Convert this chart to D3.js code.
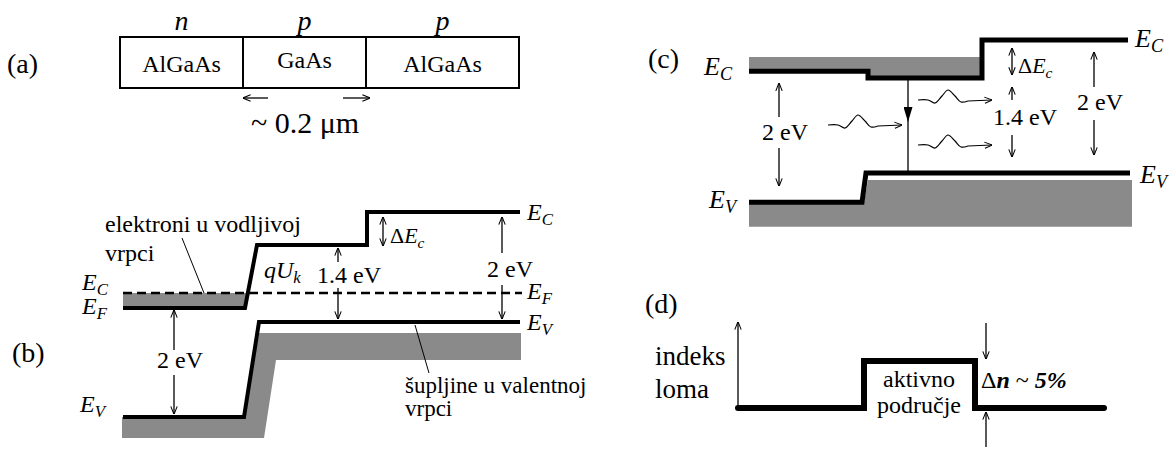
<!DOCTYPE html>
<html><head><meta charset="utf-8">
<script src="https://cdn.jsdelivr.net/npm/d3@7/dist/d3.min.js"></script>
<style>body{margin:0;background:#fff}svg text{font-family:"Liberation Serif","Times New Roman",serif;fill:#000}</style>
</head><body><svg id="c" width="1175" height="453"></svg>
<script>
// ---------- data ----------
// (a) layer stack
const layers = ["AlGaAs","GaAs","AlGaAs"];
const doping = ["n","p","p"];
const layerWidths = [123,123,153];           // relative thickness units
// (b) energy bands, [position, energy eV]
const bConduction = [[1,0.255],[123,0.255],[135,1.4],[245,1.4],[245,2.0],[398,2.0]];
const bFermi = 0.527;
const bValence = [[1,-1.727],[122,-1.727],[137,0],[398,0]];
const bElectrons = [[1,0.527],[125,0.527],[122,0.255],[1,0.255]];
const bHoles = [[0,-1.727],[122,-1.727],[137,-0.2],[399,-0.2],[399,-0.69],[154,-0.69],[142,-2.11],[0,-2.11]];
// (c) energy bands under forward bias
const cConduction = [[0,1.53],[119,1.53],[119,1.43],[233,1.43],[233,2.0],[379,2.0]];
const cValence = [[0,-0.44],[113,-0.44],[117,0],[381,0]];
const cElectrons = [[0,1.745],[231,1.745],[231,1.43],[119,1.43],[119,1.53],[0,1.53]];
const cHoles = [[0,-0.44],[115,-0.44],[119,-0.105],[383,-0.105],[383,-0.81],[0,-0.81]];
// (d) refractive index profile
const dIndex = [[0,0],[126,0],[126,1],[237,1],[237,0],[366,0]];

const svg = d3.select("#c");
const defs = svg.append("defs");
defs.append("marker").attr("id","ah").attr("viewBox","0 0 10 10").attr("refX",9.5).attr("refY",5)
  .attr("markerWidth",8).attr("markerHeight",8).attr("markerUnits","userSpaceOnUse").attr("orient","auto-start-reverse")
  .append("path").attr("d","M0,1 L10,5 L0,9").attr("fill","none").attr("stroke","#000").attr("stroke-width",1.3);
defs.append("marker").attr("id","fh").attr("viewBox","0 0 10 10").attr("refX",10).attr("refY",5)
  .attr("markerWidth",15).attr("markerHeight",9).attr("markerUnits","userSpaceOnUse").attr("orient","auto")
  .attr("preserveAspectRatio","none")
  .append("path").attr("d","M0,0 L10,5 L0,10 Z").attr("fill","#000");

const line = d3.line();
function txt(x,y,parts,size,anchor){
  const t = svg.append("text").attr("x",x).attr("y",y).attr("font-size",size).attr("text-anchor",anchor||"start");
  parts.forEach(p=>{
    const [s,st]=Array.isArray(p)?p:[p,""];
    const ts=t.append("tspan").text(s);
    if(st.includes("i")) ts.attr("font-style","italic");
    if(st.includes("b")) ts.attr("font-weight","bold");
    if(st.includes("s")) ts.attr("font-size",size*0.7).attr("dy",5);
  });
  return t;
}
function arrow(x1,y1,x2,y2,both){
  const l=svg.append("line").attr("x1",x1).attr("y1",y1).attr("x2",x2).attr("y2",y2)
   .attr("stroke","#000").attr("stroke-width",1.3).attr("marker-end","url(#ah)");
  if(both) l.attr("marker-start","url(#ah)");
}
function wave(x,y,len){
  const pts=[[0,0],[10,0],[17,3],[24,-4],[30,-10],[37,-4],[43,2],[50,1],[len,0]].map(p=>[x+p[0],y+p[1]]);
  svg.append("path").attr("d",d3.line().curve(d3.curveCatmullRom)(pts.slice(0,-1))+"L"+pts[pts.length-1].join(","))
   .attr("fill","none").attr("stroke","#000").attr("stroke-width",1.2).attr("marker-end","url(#ah)");
}
const GRAY="#8a8a8a";

// ---------- (a) ----------
const xa = d3.scaleLinear().domain([0,d3.sum(layerWidths)]).range([120,519]);
txt(7,73,["(a)"],28);
let acc=0;
layers.forEach((name,i)=>{
  const x0=xa(acc), x1=xa(acc+layerWidths[i]); acc+=layerWidths[i];
  svg.append("rect").attr("x",x0).attr("y",37).attr("width",x1-x0).attr("height",51)
    .attr("fill","none").attr("stroke","#000").attr("stroke-width",2);
  txt((x0+x1)/2, name==="GaAs"?68:72,[name],24,"middle");
  txt((x0+x1)/2,30,[[doping[i],"i"]],28,"middle");
});
arrow(xa(148),98,xa(123),98);
arrow(xa(223),98,xa(246)+4,98);
txt(xa(185),133,["~ 0.2 μm"],30,"middle");

// ---------- (b) ----------
const xb = d3.scaleLinear().domain([0,400]).range([122,522]);
const yb = d3.scaleLinear().domain([0,2]).range([322,212]);
const pb = d=>line(d.map(p=>[xb(p[0]),yb(p[1])]));
svg.append("path").attr("d",pb(bElectrons)+"Z").attr("fill",GRAY);
svg.append("path").attr("d",pb(bHoles)+"Z").attr("fill",GRAY);
svg.append("line").attr("x1",xb(1)).attr("x2",xb(400)).attr("y1",yb(bFermi)).attr("y2",yb(bFermi))
  .attr("stroke","#000").attr("stroke-width",2.5).attr("stroke-dasharray","9,5");
[bConduction,bValence].forEach(d=>svg.append("path").attr("d",pb(d)).attr("fill","none")
  .attr("stroke","#000").attr("stroke-width",4).attr("stroke-linejoin","miter"));
txt(12,362,["(b)"],28);
txt(105,232,["elektroni u vodljivoj"],24);
txt(105,261,["vrpci"],24);
svg.append("line").attr("x1",182).attr("y1",238).attr("x2",204).attr("y2",yb(bFermi)).attr("stroke","#000").attr("stroke-width",1);
txt(82,290,[["E","i"],["C","is"]],24);
txt(82,314,[["E","i"],["F","is"]],24);
txt(80,412,[["E","i"],["V","is"]],24);
txt(xb(405),220,[["E","i"],["C","is"]],24);
txt(xb(405),299,[["E","i"],["F","is"]],24);
txt(xb(405),330,[["E","i"],["V","is"]],24);
// 2 eV left
arrow(xb(52),350,xb(52),yb(0.255)+2);
arrow(xb(52),375,xb(52),yb(-1.727)-3);
txt(157,368,["2 eV"],24);
txt(264,278,[["q","i"],["U","i"],["k","is"]],24);
// 1.4 eV
arrow(xb(216),262,xb(216),yb(1.4)+3);
arrow(xb(216),288,xb(216),yb(0)-3);
txt(317,283,["1.4 eV"],24);
// delta Ec
arrow(xb(261),yb(1.4)+1,xb(261),yb(2)+5,true);
txt(390,243,["Δ",["E","i"],["c","is"]],22);
// 2 eV right
arrow(xb(380),253,xb(380),yb(2)+5);
arrow(xb(380),285,xb(380),yb(0)-3);
txt(487,277,["2 eV"],24);
// holes label
svg.append("line").attr("x1",415).attr("y1",yb(0)+3).attr("x2",429).attr("y2",373).attr("stroke","#000").attr("stroke-width",1);
txt(405,393,["šupljine u valentnoj"],23);
txt(405,416,["vrpci"],23);

// ---------- (c) ----------
const xc = d3.scaleLinear().domain([0,400]).range([749,1149]);
const yc = d3.scaleLinear().domain([0,2]).range([173,40]);
const pc = d=>line(d.map(p=>[xc(p[0]),yc(p[1])]));
svg.append("path").attr("d",pc(cElectrons)+"Z").attr("fill",GRAY);
svg.append("path").attr("d",pc(cHoles)+"Z").attr("fill",GRAY);
[cConduction,cValence].forEach(d=>svg.append("path").attr("d",pc(d)).attr("fill","none")
  .attr("stroke","#000").attr("stroke-width",5).attr("stroke-linejoin","miter"));
txt(648,68,["(c)"],28);
txt(704,75,[["E","i"],["C","is"]],26);
txt(709,208,[["E","i"],["V","is"]],26);
txt(1135,47,[["E","i"],["C","is"]],26);
txt(1140,183,[["E","i"],["V","is"]],26);
// recombination
svg.append("line").attr("x1",xc(159)).attr("x2",xc(159)).attr("y1",yc(1.43)+2).attr("y2",yc(0)).attr("stroke","#000").attr("stroke-width",1.3);
svg.append("line").attr("x1",xc(159)).attr("x2",xc(159)).attr("y1",100).attr("y2",122).attr("stroke","#000").attr("stroke-width",0.1).attr("marker-end","url(#fh)");
// 2 eV left
arrow(xc(30),117,xc(30),yc(1.53)+12);
arrow(xc(30),148,xc(30),186);
txt(762,140,["2 eV"],24);
wave(828,125,74);
wave(918,100,74);
wave(918,145,74);
// right side
arrow(xc(263),yc(1.43)-3,xc(263),yc(2)+8,true);
txt(1018,73,["Δ",["E","i"],["c","is"]],22);
arrow(xc(263),100,xc(263),87);
arrow(xc(263),135,xc(263),157);
txt(993,125,["1.4 eV"],24);
arrow(xc(345),87,xc(345),52);
arrow(xc(345),120,xc(345),155);
txt(1077,110,["2 eV"],24);

// ---------- (d) ----------
const xd = d3.scaleLinear().domain([0,400]).range([738,1138]);
const yd = d3.scaleLinear().domain([0,1]).range([408,361]);
svg.append("path").attr("d",line(dIndex.map(p=>[xd(p[0]),yd(p[1])]))).attr("fill","none")
  .attr("stroke","#000").attr("stroke-width",6).attr("stroke-linecap","round").attr("stroke-linejoin","miter");
arrow(xd(0),yd(0),xd(0),322);
txt(645,313,["(d)"],28);
txt(655,365,["indeks"],27);
txt(655,398,["loma"],27);
txt(xd(181),387,["aktivno"],24,"middle");
txt(xd(181),413,["područje"],24,"middle");
arrow(986,323,986,yd(1)-2);
arrow(986,447,986,yd(0)+4);
txt(981,388,["Δ",["n","bi"]," ~ ",["5%","bi"]],24);
</script></body></html>
